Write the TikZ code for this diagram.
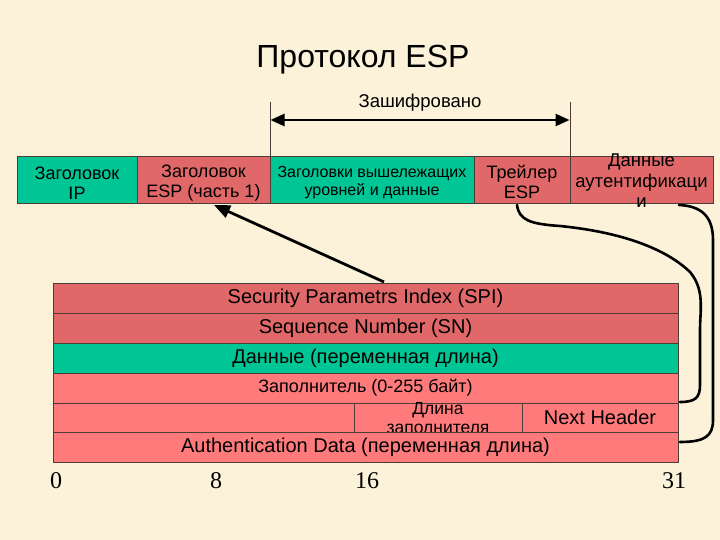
\documentclass[tikz,border=0pt]{standalone}
\usepackage{fontspec}
\setmainfont{Liberation Sans}
\newfontfamily\numfont{Liberation Serif}
\usetikzlibrary{arrows.meta}
\definecolor{bg}{RGB}{252,242,218}
\definecolor{cgreen}{RGB}{0,198,150}
\definecolor{credA}{RGB}{224,104,104}
\definecolor{credB}{RGB}{255,122,122}
\definecolor{cline}{RGB}{80,60,55}
\tikzset{
  cell/.style={draw=cline, line width=0.8pt, inner sep=0pt, align=center, font=\fontsize{18}{20}\selectfont},
  txt/.style={inner sep=0pt, align=center},
  toptxt/.style={txt, font=\fontsize{18}{20}\selectfont},
  rowtxt/.style={font=\fontsize{20}{22}\selectfont},
  bitnum/.style={txt, font=\numfont\fontsize{24}{26}\selectfont},
  link/.style={line width=2.6pt, black, line cap=round},
}
\begin{document}
\begin{tikzpicture}[x=1pt,y=-1pt]
\fill[bg] (0,0) rectangle (720,540);
\useasboundingbox (0,0) rectangle (720,540);
% title
\node[txt, font=\fontsize{32}{36}\selectfont] (title) at (363,60) {Протокол ESP};
% top row
\node[cell, fill=cgreen, minimum width=120pt, minimum height=47pt] (ip) at (77,179.5) {};
\node[cell, fill=credA, minimum width=133pt, minimum height=47pt] (esph) at (203.5,179.5) {};
\node[cell, fill=cgreen, minimum width=204pt, minimum height=47pt] (upper) at (372,179.5) {};
\node[cell, fill=credA, minimum width=96pt, minimum height=47pt] (trl) at (522,179.5) {};
\node[cell, fill=credA, minimum width=143pt, minimum height=47pt] (auth) at (641.5,179.5) {};
\node[toptxt] (iptxt) at (77,183) {Заголовок\\IP};
\node[toptxt] (esphtxt) at (203.5,183) {Заголовок\\ESP (часть 1)};
\node[txt, font=\fontsize{16}{18.5}\selectfont] (uppertxt) at (372,182.5) {Заголовки вышележащих\\уровней и данные};
\node[toptxt] (trltxt) at (522,182) {Трейлер\\ESP};
\node[txt, font=\fontsize{18.5}{20.5}\selectfont] (authtxt) at (641.5,181) {Данные\\аутентификаци\\и};
% encrypted marker
\coordinate (encL) at (270,102);
\coordinate (encR) at (570,102);
\draw[line width=0.8pt, cline] (encL) -- (270,156);
\draw[line width=0.8pt, cline] (encR) -- (570,156);
\draw[line width=2.6pt, {Triangle[length=14pt,width=12pt]}-{Triangle[length=14pt,width=12pt]}] (270.5,120) -- (569.5,120);
\node[txt, font=\fontsize{18.5}{20}\selectfont] (enc) at (420,103) {Зашифровано};
% bottom table
\node[cell, fill=credA, minimum width=625pt, minimum height=30pt, rowtxt] (spi) at (365.5,298) {Security Parametrs Index (SPI)};
\node[cell, fill=credA, minimum width=625pt, minimum height=30pt, rowtxt] (sn) at (365.5,328) {Sequence Number (SN)};
\node[cell, fill=cgreen, minimum width=625pt, minimum height=30pt, rowtxt] (data) at (365.5,358) {Данные (переменная длина)};
\node[cell, fill=credB, minimum width=625pt, minimum height=30pt, font=\fontsize{18}{20}\selectfont] (pad) at (365.5,388) {Заполнитель (0-255 байт)};
\node[cell, fill=credB, minimum width=301pt, minimum height=29pt] (padr) at (203.5,417.5) {};
\node[cell, fill=credB, minimum width=168pt, minimum height=29pt] (padlen) at (438,417.5) {};
\node[txt, font=\fontsize{17.5}{19}\selectfont] (padlentxt) at (438,418) {Длина\\заполнителя};
\node[cell, fill=credB, minimum width=156pt, minimum height=29pt, rowtxt] (nh) at (600,417.5) {Next Header};
\node[cell, fill=credB, minimum width=625pt, minimum height=30pt, rowtxt] (ad) at (365.5,447.5) {Authentication Data (переменная длина)};
% bit numbers
\node[bitnum] (n0) at (56,481) {0};
\node[bitnum] (n8) at (216,481) {8};
\node[bitnum] (n16) at (367,481) {16};
\node[bitnum] (n31) at (674,481) {31};
% arrow from SPI to ESP header
\coordinate (spitop) at (384,282);
\draw[line width=2.8pt, -{Triangle[length=16pt,width=13pt]}] (spitop) -- (214,205);
% curves
\coordinate (c1s) at (517,205);
\coordinate (c1e) at (680,402);
\draw[link] (c1s) .. controls (519,220) and (530,224) .. (560,226)
  .. controls (620,232) and (665,248) .. (690,272)
  .. controls (705,290) and (700,310) .. (700,330)
  -- (700,385) .. controls (700,398) and (695,402) .. (c1e);
\coordinate (c2s) at (679,205);
\coordinate (c2e) at (680,442);
\draw[link] (c2s) .. controls (700,206) and (713,215) .. (713,240)
  -- (713,420) .. controls (713,436) and (705,442) .. (c2e);
\end{tikzpicture}
\end{document}
